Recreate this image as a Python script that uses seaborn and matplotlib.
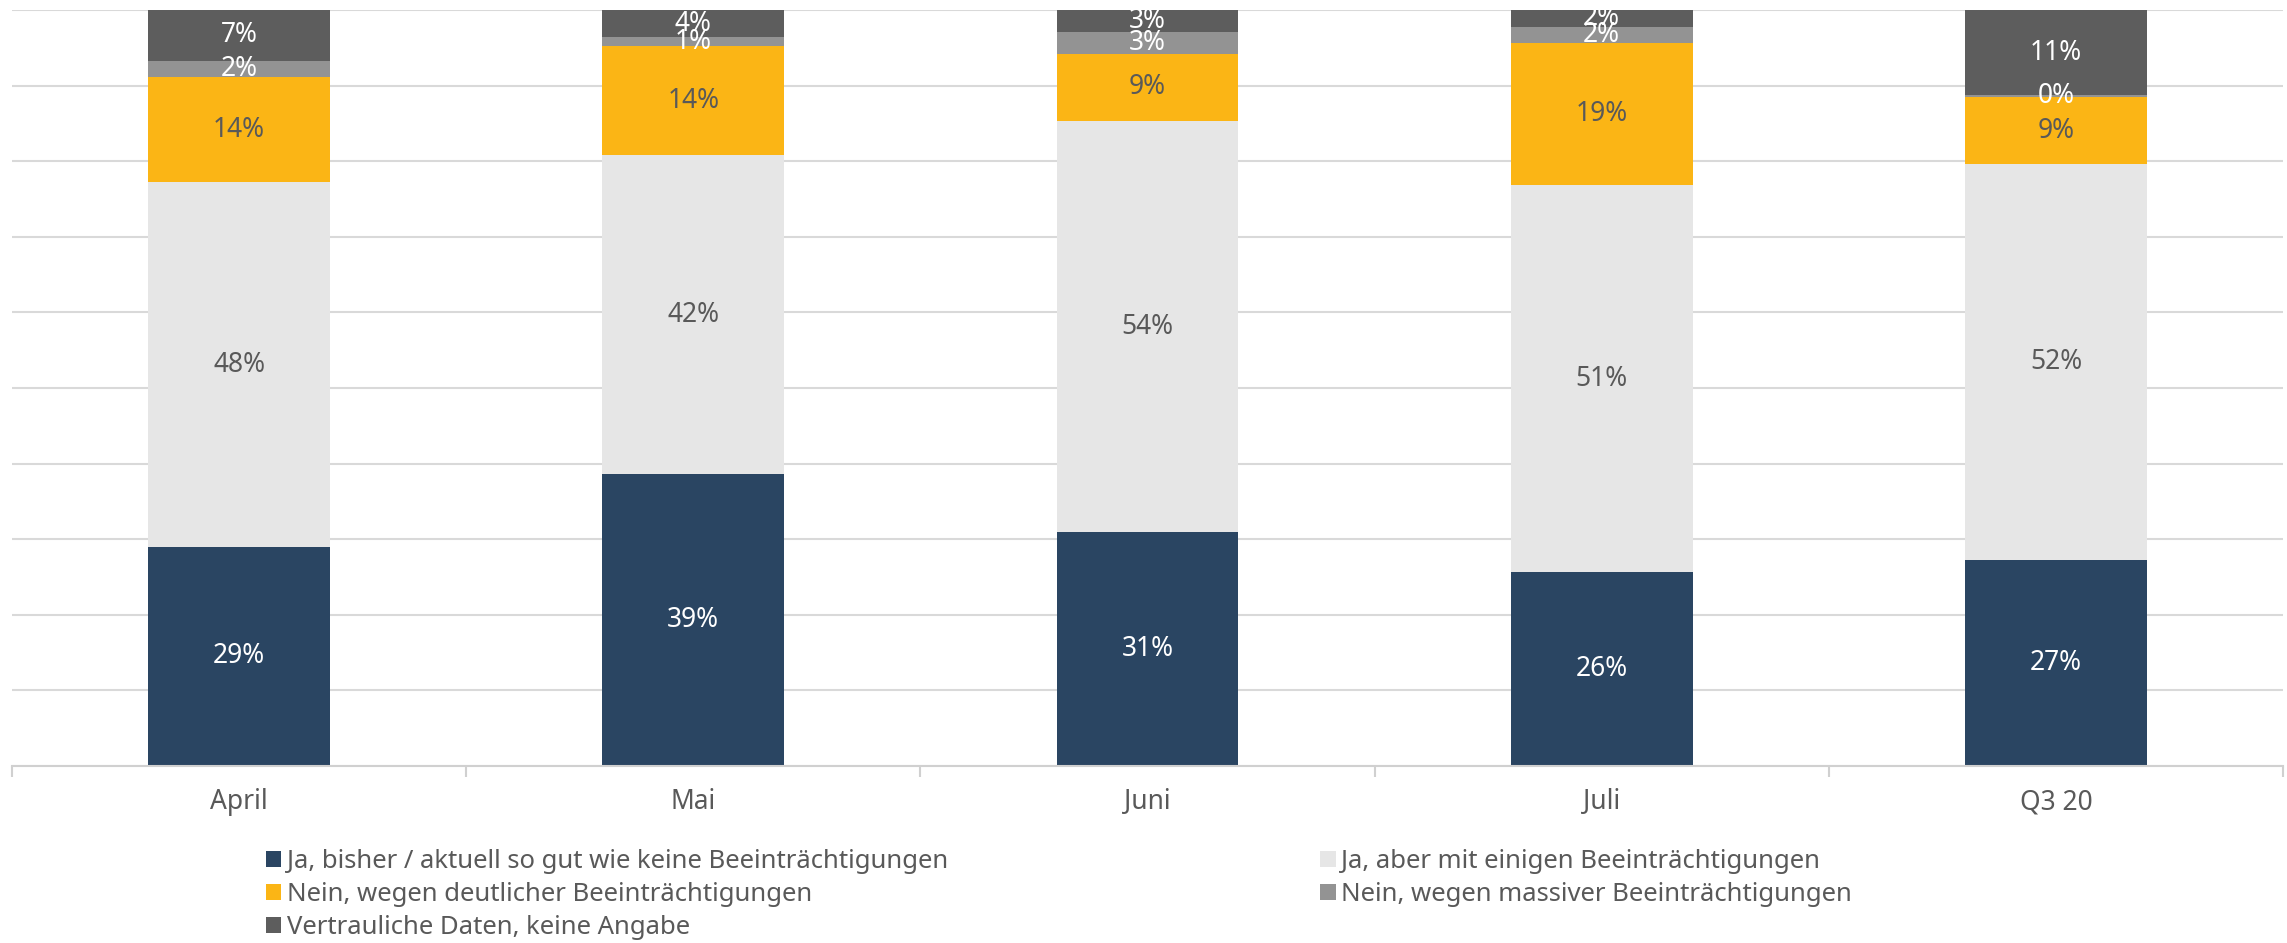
import matplotlib
matplotlib.use("Agg")
import matplotlib.pyplot as plt
from matplotlib.patches import Patch
import seaborn as sns
import numpy as np

categories = ["April", "Mai", "Juni", "Juli", "Q3 20"]
series_names = [
    "Ja, bisher / aktuell so gut wie keine Beeinträchtigungen",
    "Ja, aber mit einigen Beeinträchtigungen",
    "Nein, wegen deutlicher Beeinträchtigungen",
    "Nein, wegen massiver Beeinträchtigungen",
    "Vertrauliche Daten, keine Angabe",
]
ja_keine = [29.0, 38.6, 30.9, 25.6, 27.3]
ja_einige = [48.2, 42.2, 54.4, 51.2, 52.3]
nein_deutlich = [13.9, 14.4, 8.9, 18.8, 8.9]
nein_massiv = [2.2, 1.2, 2.9, 2.2, 0.2]
vertraulich = [6.7, 3.6, 2.9, 2.2, 11.3]
series_values = [ja_keine, ja_einige, nein_deutlich, nein_massiv, vertraulich]

colors = ["#2A4562", "#E6E6E6", "#FBB515", "#939393", "#5D5D5D"]
label_colors = ["white", "#595959", "#595959", "white", "white"]

sns.set_theme(style="white")
plt.rcParams["font.family"] = ["Noto Sans", "DejaVu Sans"]

W, H = 2287, 943
fig = plt.figure(figsize=(W / 100, H / 100), dpi=100)
ax = fig.add_axes([12 / W, (H - 766) / H, (2283 - 12) / W, (766 - 10) / H])

bottom = np.zeros(len(categories))
for name, vals, col, lcol in zip(series_names, series_values, colors, label_colors):
    sns.barplot(x=categories, y=vals, bottom=bottom, color=col, width=0.4,
                errorbar=None, ax=ax, saturation=1, linewidth=0)
    cont = ax.containers[-1]
    ax.bar_label(cont, labels=[f"{v:.0f}%" for v in vals], label_type="center",
                 color=lcol, fontsize=19)
    bottom = bottom + np.array(vals)

if ax.get_legend() is not None:
    ax.get_legend().remove()

ax.set_ylim(0, 100)
ax.set_xlim(-0.5, 4.5)
ax.set_yticks(np.arange(0, 101, 10))
ax.yaxis.grid(True, color="#D9D9D9", linewidth=1.5)
ax.set_axisbelow(True)
ax.tick_params(axis="y", left=False, labelleft=False)
for s in ["top", "right", "left"]:
    ax.spines[s].set_visible(False)
ax.spines["bottom"].set_color("#D0D0D0")
ax.spines["bottom"].set_linewidth(1.5)

ax.set_xticks(range(len(categories)))
ax.set_xticklabels(categories)
ax.set_xticks(np.arange(-0.5, 4.6, 1), minor=True)
ax.tick_params(axis="x", which="major", length=0, pad=16, labelsize=19, labelcolor="#595959")
ax.tick_params(axis="x", which="minor", length=8, width=1.5, color="#D0D0D0", bottom=True)
ax.set_xlabel("")
ax.set_ylabel("")

handles = [Patch(facecolor=c, edgecolor="none") for c in colors]
order = [0, 2, 4, 1, 3]
leg = fig.legend([handles[i] for i in order], [series_names[i] for i in order],
                 loc="upper left", bbox_to_anchor=(266 / W, 1 - 849 / H), ncol=2,
                 frameon=False, fontsize=18.5, handlelength=0.6, handleheight=0.6,
                 handletextpad=0.2, labelspacing=0.31, columnspacing=14.5,
                 borderpad=0, borderaxespad=0)
for t in leg.get_texts():
    t.set_color("#595959")

fig.savefig("out.png", dpi=100)
